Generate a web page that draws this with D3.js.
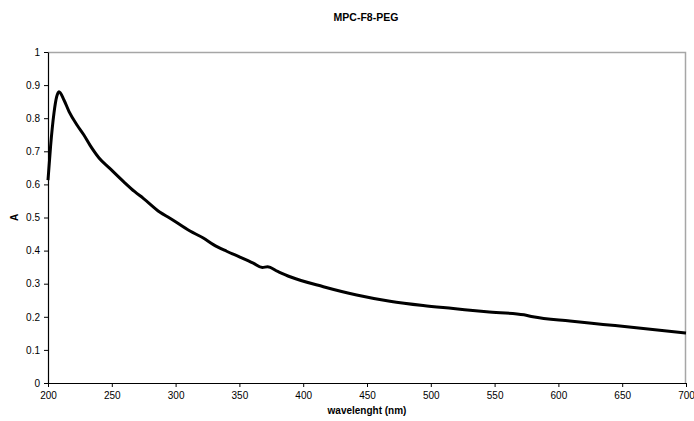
<!DOCTYPE html>
<html>
<head>
<meta charset="utf-8">
<script src="https://cdn.jsdelivr.net/npm/d3@7"></script>
<style>
  body { margin: 0; background: #fff; }
  text { font-family: "Liberation Sans", Arial, sans-serif; }
</style>
</head>
<body>
<div id="chart"></div>
<script>
const svgWidth = 694;
const svgHeight = 421;

// data
const wavelength = [200, 202, 204.7, 206.8, 208.6, 212.5, 216.5, 223, 228, 233, 240, 248, 259.6, 268,
  274.7, 287.8, 295.6, 311.3, 321.7, 329.6, 340, 350, 360.9, 368, 372, 380, 389.7, 415.8, 441.9,
  468, 494, 517.6, 543.7, 573, 580, 609, 635, 661, 700];
const absorbance = [0.613, 0.714, 0.816, 0.865, 0.880, 0.855, 0.820, 0.778, 0.750, 0.718, 0.680, 0.650, 0.607, 0.578,
  0.558, 0.516, 0.498, 0.459, 0.438, 0.418, 0.398, 0.381, 0.362, 0.349, 0.351, 0.337, 0.321, 0.291, 0.266,
  0.247, 0.234, 0.225, 0.215, 0.206, 0.200, 0.187, 0.177, 0.167, 0.151];

const xTicks = [200, 250, 300, 350, 400, 450, 500, 550, 600, 650, 700];
const yTicks = [0, 0.1, 0.2, 0.3, 0.4, 0.5, 0.6, 0.7, 0.8, 0.9, 1];

const margin = { top: 52, right: 8, bottom: 38, left: 48 };
const width = svgWidth - margin.left - margin.right;
const height = svgHeight - margin.top - margin.bottom;

const svg = d3.select("#chart")
  .append("svg")
  .attr("width", svgWidth)
  .attr("height", svgHeight);

const chartGroup = svg.append("g")
  .attr("transform", `translate(${margin.left}, ${margin.top})`);

const xScale = d3.scaleLinear().domain([200, 700]).range([0, width]);
const yScale = d3.scaleLinear().domain([0, 1]).range([height, 0]);

// grey frame on top and right
chartGroup.append("path")
  .attr("d", `M0,0.5H${width - 0.5}V${height}`)
  .attr("fill", "none")
  .attr("stroke", "#a6a6a6")
  .attr("stroke-width", 1.5);

// axes
const bottomAxis = d3.axisBottom(xScale).tickValues(xTicks).tickSize(4).tickSizeOuter(0).tickPadding(5);
const leftAxis = d3.axisLeft(yScale).tickValues(yTicks).tickSize(4).tickSizeOuter(0).tickPadding(4)
  .tickFormat(d => d3.format("~g")(d));

const xAxis = chartGroup.append("g")
  .attr("transform", `translate(0, ${height})`)
  .call(bottomAxis);

const yAxis = chartGroup.append("g")
  .call(leftAxis);

[xAxis, yAxis].forEach(a => {
  a.select(".domain").attr("stroke", "#000").attr("stroke-width", 1.2);
  a.selectAll(".tick line").attr("stroke", "#000");
  a.selectAll(".tick text").attr("font-size", 10).attr("fill", "#000")
    .style("font-family", "Liberation Sans, Arial, sans-serif");
});

// spectrum
const line = d3.line()
  .x((d, i) => xScale(wavelength[i]))
  .y(d => yScale(d))
  .curve(d3.curveMonotoneX);

chartGroup.append("path")
  .datum(absorbance)
  .attr("d", line)
  .attr("fill", "none")
  .attr("stroke", "#000")
  .attr("stroke-width", 3)
  .attr("stroke-linejoin", "round");

// title
svg.append("text")
  .attr("x", 366)
  .attr("y", 21)
  .attr("text-anchor", "middle")
  .attr("font-size", 10.5)
  .attr("font-weight", "bold")
  .text("MPC-F8-PEG");

// axis titles
svg.append("text")
  .attr("x", margin.left + width / 2)
  .attr("y", 414)
  .attr("text-anchor", "middle")
  .attr("font-size", 10)
  .attr("font-weight", "bold")
  .text("wavelenght (nm)");

svg.append("text")
  .attr("transform", `translate(18, ${margin.top + height / 2}) rotate(-90)`)
  .attr("text-anchor", "middle")
  .attr("font-size", 10)
  .attr("font-weight", "bold")
  .text("A");
</script>
</body>
</html>
